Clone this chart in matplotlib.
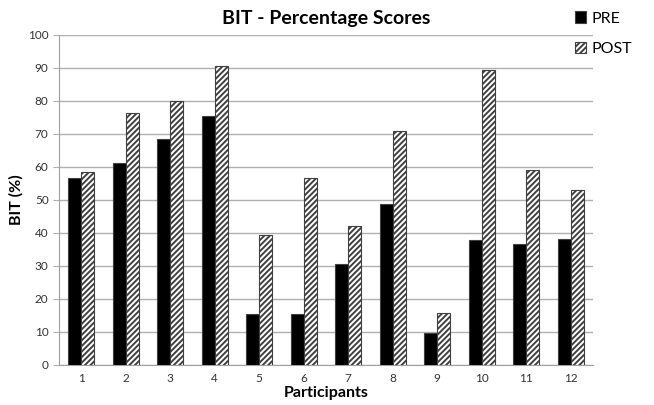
import matplotlib.pyplot as plt
import numpy as np

plt.rcParams['font.family'] = ['Lato', 'DejaVu Sans']
plt.rcParams['hatch.color'] = '#2a2a2a'
plt.rcParams['hatch.linewidth'] = 1.4

participants = [str(i) for i in range(1, 13)]
pre = [56.7, 61.2, 68.5, 75.5, 15.6, 15.6, 30.6, 48.7, 9.6, 37.8, 36.6, 38.2]
post = [58.5, 76.4, 80.0, 90.6, 39.3, 56.8, 42.1, 70.8, 15.9, 89.3, 59.0, 53.0]

fig = plt.figure(figsize=(6.54, 4.05), dpi=100)
ax = fig.add_axes([0.0902, 0.0988, 0.8165, 0.8148])

x = np.arange(len(participants))
w = 0.29
ax.bar(x - w / 2, pre, w, color='black', edgecolor='#404040', linewidth=0.8, label='PRE', zorder=3)
ax.bar(x + w / 2, post, w, color='white', edgecolor='#404040', linewidth=0.8,
       hatch='//////', label='POST', zorder=3)

ax.set_xlim(-0.5, len(participants) - 0.5)
ax.set_ylim(0, 100)
ax.set_yticks(np.arange(0, 101, 10))
ax.set_xticks(x)
ax.set_xticklabels(participants)
ax.yaxis.grid(True, color='#b0b0b0', linewidth=1, zorder=0)
ax.tick_params(axis='x', length=0, labelsize=8.5, pad=6, colors='#333333')
ax.tick_params(axis='y', length=4, color='#b0b0b0', labelsize=8.5, colors='#333333')
for s in ['top', 'right']:
    ax.spines[s].set_visible(False)
ax.spines['left'].set_color('#a0a0a0')
ax.spines['bottom'].set_color('#a0a0a0')

ax.set_title('BIT - Percentage Scores', fontsize=14, fontweight='bold', pad=8)
ax.set_xlabel('Participants', fontsize=11.5, fontweight='bold', labelpad=1)
ax.set_ylabel('BIT (%)', fontsize=11.5, fontweight='bold', labelpad=3)

ax.legend(loc='upper left', bbox_to_anchor=(0.94, 1.115), frameon=False, fontsize=11.5,
          handlelength=0.7, handleheight=0.7, handletextpad=0.3, labelspacing=1.0)

fig.savefig('out.png', dpi=100)
